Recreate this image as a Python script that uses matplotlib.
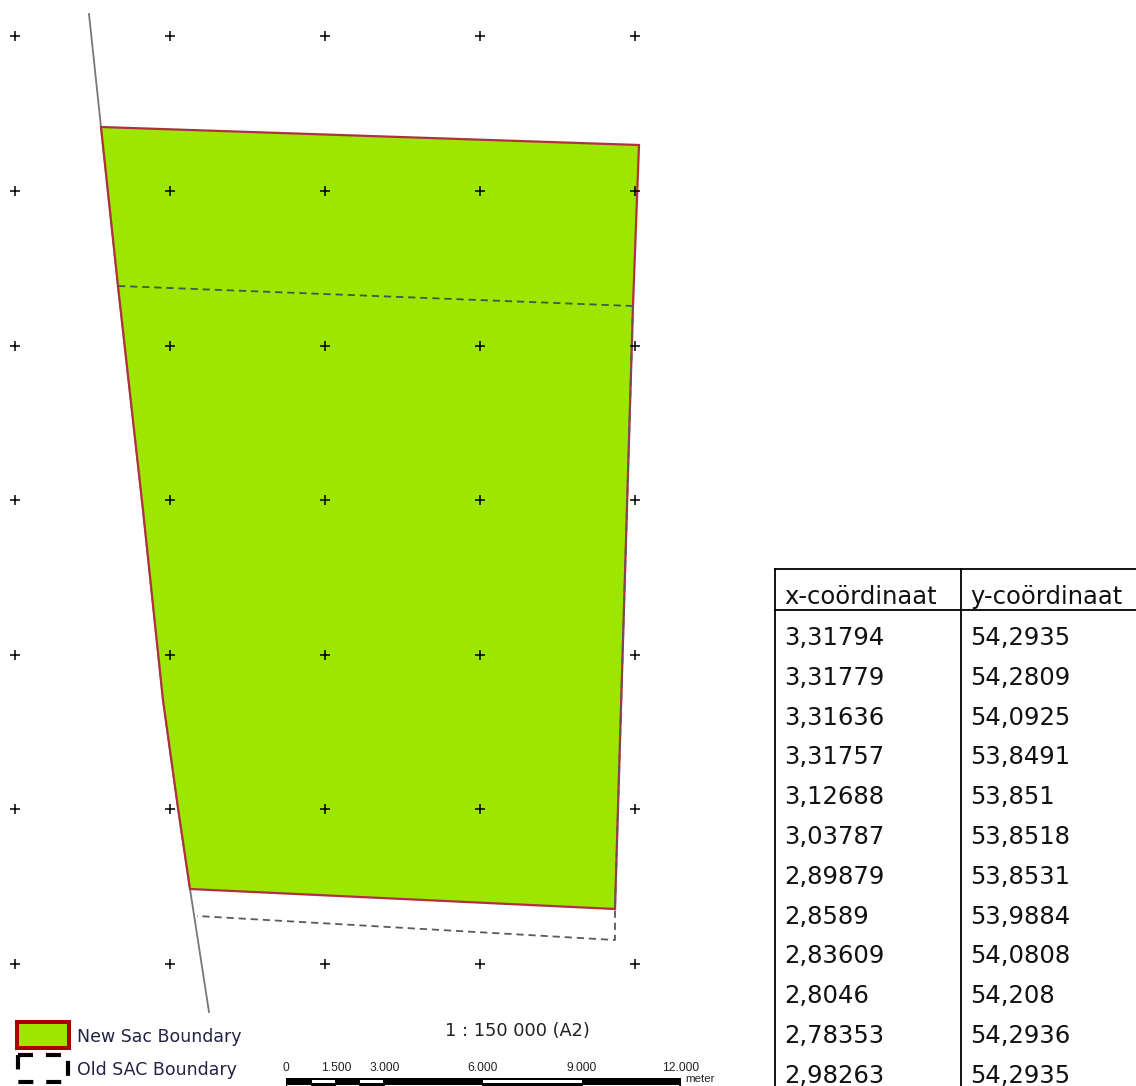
import matplotlib
matplotlib.use('Agg')
import matplotlib.pyplot as plt
from matplotlib.patches import Polygon, Rectangle

# table values
headers = ['x-coördinaat', 'y-coördinaat']
x_coord = ['3,31794', '3,31779', '3,31636', '3,31757', '3,12688', '3,03787',
           '2,89879', '2,8589', '2,83609', '2,8046', '2,78353', '2,98263']
y_coord = ['54,2935', '54,2809', '54,0925', '53,8491', '53,851', '53,8518',
           '53,8531', '53,9884', '54,0808', '54,208', '54,2936', '54,2935']

# map shapes, in image coordinates
grid_x = [15, 170, 325, 480, 635]
grid_y = [35.5, 190.5, 345.5, 499.5, 654.5, 808.5, 963.5]
sac_x = [101, 639, 633, 615, 190, 178, 163, 143, 118]
sac_y = [127, 145, 306, 909, 889, 808, 700, 510, 286]
median_x = [89, 101, 118, 143, 163, 178, 190, 209]
median_y = [14, 127, 286, 510, 700, 808, 889, 1012]
old_x = [118, 633, 615, 615, 197]
old_y = [286, 306, 909, 940, 916]

# scale bar
scale_ticks = [286, 336, 385, 483, 582, 681]
scale_labels = ['0', '1.500', '3.000', '6.000', '9.000', '12.000']
white_top = [(312, 335), (360, 383), (483, 582)]
white_low = [(287, 311), (336, 359), (385, 482), (583, 679)]

fig = plt.figure(figsize=(11.36, 10.86), dpi=100)
ax = fig.add_axes([0, 0, 1, 1])
ax.set_xlim(0, 1136)
ax.set_ylim(1086, 0)
ax.axis('off')

px = 0.72  # points per pixel at 100 dpi

# map
ax.plot(median_x, median_y, color='#777777', lw=1.3, zorder=1)
ax.add_patch(Polygon(list(zip(sac_x, sac_y)), closed=True, facecolor='#9ce600',
                     edgecolor='#b03040', lw=1.6, zorder=2))
ax.plot(old_x[:2], old_y[:2], color='#3a5a50', lw=1.3, ls=(0, (4, 2.7)), zorder=3)
ax.plot(old_x[1:], old_y[1:], color='#5a5a5a', lw=1.3, ls=(0, (4, 2.7)), zorder=3)
for gx in grid_x:
    ax.plot([gx] * len(grid_y), grid_y, ls='none', marker='+', ms=7, mew=1.1,
            color='black', zorder=4)

# legend
ax.add_patch(Rectangle((17, 1022), 52, 26, facecolor='#9ce600', edgecolor='#a80000', lw=2.9))
ax.add_patch(Rectangle((18, 1055), 50, 27, facecolor='none', edgecolor='black', lw=3,
                       ls=(0, (3.6, 3.1))))
ax.text(77, 1037, 'New Sac Boundary', fontsize=17.4 * px, va='center', color='#222244')
ax.text(77, 1070, 'Old SAC Boundary', fontsize=17.4 * px, va='center', color='#222244')
ax.text(517, 1031, '1 : 150 000 (A2)', fontsize=17.7 * px, va='center', ha='center', color='#222222')

# scale bar
ax.add_patch(Rectangle((scale_ticks[0], 1078), scale_ticks[-1] - scale_ticks[0], 8,
                       facecolor='black', edgecolor='none'))
for a, b in white_top:
    ax.add_patch(Rectangle((a, 1080), b - a, 2.5, facecolor='white', edgecolor='none'))
for a, b in white_low:
    ax.add_patch(Rectangle((a, 1084.5), b - a, 1.5, facecolor='white', edgecolor='none'))
for t, lab in zip(scale_ticks, scale_labels):
    ax.text(t, 1068, lab, fontsize=12 * px, ha='center', va='center',
            family='Liberation Sans', color='#222222')
ax.text(685, 1079.5, 'meter', fontsize=11.5 * px, va='center', family='Liberation Sans', color='#222222')

# table
col_left = [775, 961]
col_text = [784, 970]
ax.plot([775, 1136], [569, 569], color='black', lw=1.3)
ax.plot([775, 1136], [610, 610], color='black', lw=1.3)
for c in col_left:
    ax.plot([c, c], [569, 1086], color='black', lw=1.3)
for i, h in enumerate(headers):
    ax.text(col_text[i], 604, h, fontsize=24.2 * px, va='baseline', color='#111111')
for r in range(len(x_coord)):
    y = 645 + r * 39.8
    ax.text(col_text[0], y, x_coord[r], fontsize=24.2 * px, va='baseline', color='#111111')
    ax.text(col_text[1], y, y_coord[r], fontsize=24.2 * px, va='baseline', color='#111111')

fig.savefig('out.png', dpi=100)
